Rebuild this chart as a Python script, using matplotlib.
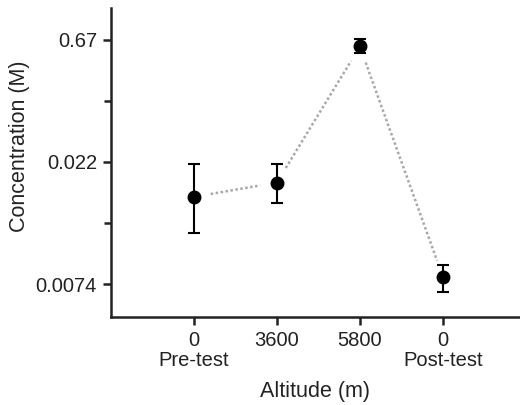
import numpy as np
import matplotlib.pyplot as plt

# altitude groups and concentration
altitude_labels = ['0\nPre-test', '3600', '5800', '0\nPost-test']
conc_mean = [0.0161, 0.0183, 0.555, 0.0079]
conc_low = [0.0117, 0.0153, 0.462, 0.0069]
conc_high = [0.0216, 0.0216, 0.684, 0.0088]
ytick_values = [0.0074, 0.022, 0.67]
ytick_labels = ['0.0074', '0.022', '0.67']

plt.rcParams['font.family'] = ['Liberation Sans', 'DejaVu Sans']

# the y axis puts the three ticks evenly apart: piecewise log scale
log_ticks = np.log(ytick_values)


def forward(v):
    lv = np.log(np.clip(np.asarray(v, dtype=float), 1e-12, None))
    return np.where(lv < log_ticks[1],
                    (lv - log_ticks[0]) / (log_ticks[1] - log_ticks[0]),
                    1 + (lv - log_ticks[1]) / (log_ticks[2] - log_ticks[1]))


def inverse(u):
    u = np.asarray(u, dtype=float)
    return np.exp(np.where(u < 1,
                           log_ticks[0] + u * (log_ticks[1] - log_ticks[0]),
                           log_ticks[1] + (u - 1) * (log_ticks[2] - log_ticks[1])))


fig = plt.figure(figsize=(5.2, 4.05), dpi=100)
ax = fig.add_axes([111 / 520, 1 - 317 / 405, 1 - 111 / 520, (317 - 8) / 405])
ax.set_yscale('function', functions=(forward, inverse))

x = np.arange(1, len(conc_mean) + 1)
mean = np.array(conc_mean)
yerr = [mean - np.array(conc_low), np.array(conc_high) - mean]

ax.set_xlim(0, 4.93)
ax.set_ylim(float(inverse(-0.27)), float(inverse(2.26)))

# dotted connecting line, stopped short of each marker
gap = 17
pts = ax.transData.transform(np.column_stack([x, mean]))
for i in range(len(x) - 1):
    a, b = pts[i], pts[i + 1]
    d = (b - a) / np.linalg.norm(b - a)
    seg = ax.transData.inverted().transform(np.array([a + d * gap, b - d * gap]))
    ax.plot(seg[:, 0], seg[:, 1], color='#a8a8a8', lw=1.8, linestyle=(0, (1, 1)))

ax.errorbar(x, mean, yerr=yerr, fmt='o', color='black', markersize=9,
            elinewidth=1.5, capsize=4.5, capthick=1.5, zorder=3)

ax.set_xticks(x)
ax.set_xticklabels(altitude_labels, linespacing=1.05)
ax.set_yticks(ytick_values)
ax.set_yticklabels(ytick_labels)
ax.set_yticks([float(inverse(0.5)), float(inverse(1.5))], minor=True)
ax.xaxis.set_minor_locator(plt.NullLocator())

for side in ['top', 'right']:
    ax.spines[side].set_visible(False)
for side in ['left', 'bottom']:
    ax.spines[side].set_linewidth(1.8)
    ax.spines[side].set_color('#222222')

ax.tick_params(axis='both', which='major', labelsize=14.5, length=6, width=1.8,
               colors='#222222', pad=4)
ax.tick_params(axis='y', which='minor', length=5, width=1.8, color='#222222')

ax.set_xlabel('Altitude (m)', fontsize=15.5, color='#222222', labelpad=8)
ax.set_ylabel('Concentration (M)', fontsize=15.5, color='#222222')
ax.yaxis.set_label_coords(-0.198, 0.553)

fig.savefig('out.png', dpi=100)
